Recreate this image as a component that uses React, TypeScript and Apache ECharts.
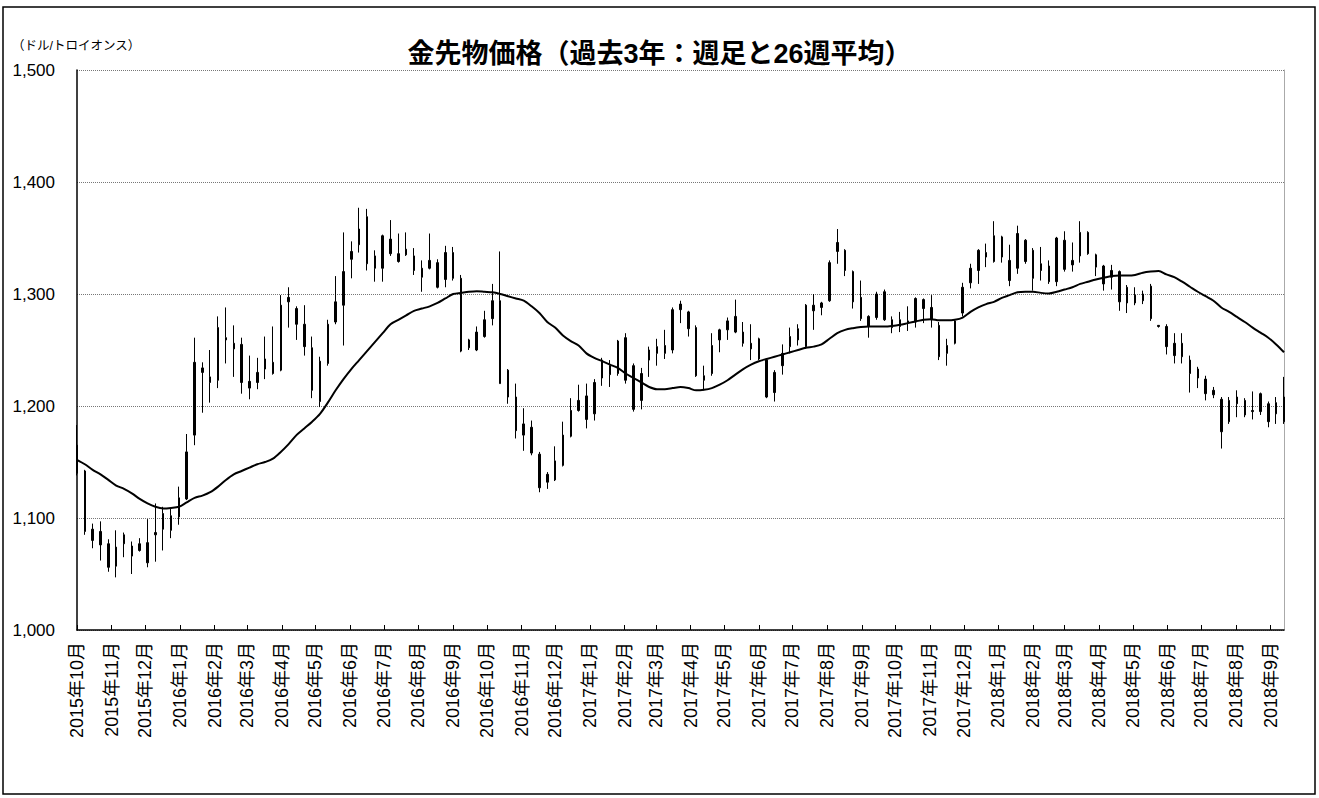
import React, { useEffect, useRef } from "react";
import * as echarts from "echarts";

const FIRST_WEEK = "2015-10-02";
const LAST_DAY = "2018-09-14";

const opens = [1165,1142,1090,1088,1077,1057,1085,1075,1071,1078,1085,1090,1102,1101,1117,1174,1230,1226,1223,1261,1256,1255,1216,1221,1233,1239,1232,1293,1287,1273,1252,1240,1238,1275,1290,1338,1344,1369,1323,1323,1349,1336,1335,1334,1323,1330,1328,1313,1337,1314,1252,1250,1262,1278,1294,1232,1208,1184,1181,1157,1132,1134,1147,1173,1196,1209,1193,1225,1236,1229,1261,1236,1205,1241,1247,1254,1250,1286,1284,1270,1227,1229,1259,1268,1280,1266,1256,1260,1241,1212,1236,1253,1259,1253,1290,1292,1294,1338,1339,1320,1297,1280,1279,1302,1270,1271,1274,1275,1295,1288,1272,1247,1256,1283,1310,1321,1333,1329,1351,1330,1323,1348,1339,1327,1325,1311,1348,1326,1334,1355,1335,1325,1315,1320,1306,1299,1294,1307,1272,1271,1256,1244,1241,1233,1224,1214,1206,1186,1208,1205,1195,1195,1202,1193,1186];
const closes = [1140,1088,1080,1076,1056,1074,1077,1066,1077,1060,1087,1104,1089,1118,1159,1239,1234,1221,1270,1259,1251,1221,1222,1230,1242,1229,1290,1297,1273,1253,1214,1204,1273,1293,1320,1331,1358,1327,1334,1352,1336,1329,1340,1321,1315,1323,1306,1337,1314,1249,1259,1266,1277,1294,1220,1208,1178,1174,1158,1127,1139,1151,1174,1196,1205,1188,1221,1241,1228,1258,1223,1197,1229,1250,1253,1247,1286,1291,1269,1227,1223,1254,1268,1276,1266,1256,1251,1242,1208,1230,1247,1262,1269,1290,1285,1288,1328,1346,1321,1293,1278,1271,1300,1277,1277,1277,1276,1296,1287,1277,1244,1254,1276,1306,1323,1339,1337,1352,1333,1312,1354,1329,1314,1321,1311,1350,1322,1330,1355,1336,1324,1309,1321,1293,1292,1292,1300,1278,1271,1253,1245,1256,1229,1225,1211,1210,1177,1205,1202,1192,1196,1211,1186,1203,1208];
const lows = [1138,1085,1073,1062,1052,1047,1065,1050,1070,1056,1061,1071,1082,1094,1116,1165,1194,1203,1216,1238,1226,1211,1206,1215,1224,1228,1231,1270,1259,1245,1207,1199,1236,1273,1254,1314,1337,1321,1311,1311,1334,1328,1334,1317,1302,1322,1305,1306,1312,1248,1250,1249,1261,1272,1220,1202,1171,1160,1156,1123,1126,1133,1146,1172,1195,1180,1187,1218,1217,1227,1220,1195,1197,1226,1236,1242,1247,1274,1262,1226,1214,1227,1248,1259,1265,1253,1241,1241,1207,1204,1228,1247,1254,1251,1268,1281,1293,1327,1316,1287,1276,1261,1277,1276,1265,1266,1267,1270,1274,1270,1241,1236,1255,1280,1305,1309,1324,1328,1328,1307,1318,1327,1303,1312,1309,1307,1320,1320,1328,1335,1316,1303,1304,1285,1283,1290,1291,1276,1270,1246,1238,1238,1212,1216,1205,1207,1162,1184,1190,1190,1188,1192,1181,1184,1184];
const highs = [1183,1143,1095,1097,1081,1089,1087,1079,1082,1099,1113,1110,1108,1128,1175,1261,1239,1250,1280,1288,1272,1261,1245,1243,1262,1271,1299,1306,1289,1290,1262,1244,1277,1316,1355,1347,1377,1376,1339,1353,1366,1354,1355,1341,1330,1354,1331,1343,1342,1317,1260,1271,1285,1309,1338,1233,1220,1198,1187,1159,1141,1164,1186,1207,1219,1220,1224,1243,1241,1259,1265,1238,1234,1253,1260,1268,1288,1294,1285,1272,1236,1265,1269,1279,1295,1275,1273,1261,1242,1232,1255,1270,1273,1291,1300,1293,1330,1358,1340,1321,1312,1281,1302,1304,1280,1284,1289,1297,1296,1299,1275,1260,1277,1310,1327,1340,1345,1365,1352,1344,1361,1349,1341,1342,1330,1351,1356,1346,1365,1356,1336,1326,1326,1321,1308,1306,1303,1309,1272,1273,1265,1265,1245,1235,1227,1217,1208,1208,1214,1207,1213,1212,1204,1208,1226];
const ma26 = [1152,1148,1143,1139,1134,1129,1126,1122,1117,1113,1110,1108.5,1109,1110,1114,1118,1120,1123,1128,1134,1139,1142,1145,1148,1150,1153,1159,1166,1174,1180,1186,1193,1203,1214,1224,1233,1241,1249,1257,1265,1273,1277,1281,1285,1287,1289,1292,1296,1300,1301,1302,1302.5,1302,1301.5,1300,1298,1296,1294,1289,1283,1275,1270,1263,1258,1254,1247,1243,1240,1237,1234,1229,1225,1221,1217,1215,1215,1216,1217,1216,1214,1214.5,1216,1219,1223,1228,1233,1237,1240,1242,1244,1246,1248,1250,1252,1253,1255,1260,1265,1268,1269.5,1270.5,1271,1271,1271,1271.5,1272.5,1274,1275.5,1277,1277.5,1276.5,1276.5,1277,1279,1284,1288,1291,1293,1296.5,1299,1301.5,1302,1302,1301,1300.5,1302,1304,1306,1309,1311,1313,1314.5,1316,1316.5,1316.5,1317,1319,1320,1320.5,1317.5,1315,1311,1306.5,1302,1298,1294,1288,1284,1279.5,1275,1270,1265.5,1261,1255,1248];

const Y_TICKS = [1000, 1100, 1200, 1300, 1400, 1500];
const TITLE = "金先物価格（過去3年：週足と26週平均）";
const UNIT = "（ドル/トロイオンス）";

const FONT = "'Liberation Sans', 'Noto Sans CJK JP', sans-serif";

function fmt(d: Date) {
  const y = d.getUTCFullYear();
  const m = String(d.getUTCMonth() + 1).padStart(2, "0");
  const dd = String(d.getUTCDate()).padStart(2, "0");
  return `${y}-${m}-${dd}`;
}

function buildDays(): string[] {
  const out: string[] = [];
  const d = new Date(FIRST_WEEK + "T00:00:00Z");
  const end = new Date(LAST_DAY + "T00:00:00Z");
  while (d.getTime() <= end.getTime()) {
    out.push(fmt(d));
    d.setUTCDate(d.getUTCDate() + 1);
  }
  return out;
}

function buildWeeks(n: number): string[] {
  const out: string[] = [];
  const d = new Date(FIRST_WEEK + "T00:00:00Z");
  for (let i = 0; i < n; i++) {
    out.push(fmt(d));
    d.setUTCDate(d.getUTCDate() + 7);
  }
  return out;
}

export default function App() {
  const ref = useRef<HTMLDivElement>(null);
  useEffect(() => {
    if (!ref.current) return;
    const chart = echarts.init(ref.current, undefined, { renderer: "svg" });
    const days = buildDays();
    const weeks = buildWeeks(opens.length);
    const weekIndex: Record<string, number> = {};
    weeks.forEach((d, i) => (weekIndex[d] = i));
    const labelDay = FIRST_WEEK.slice(8);
    const isLabel = (_i: number, v: string) => v.slice(8) === labelDay;
    const candles = days.map((d) => {
      const i = weekIndex[d];
      return i === undefined ? ["-", "-", "-", "-"] : [opens[i], closes[i], lows[i], highs[i]];
    });
    const maLine = days.map((d) => {
      const i = weekIndex[d];
      return i === undefined ? "-" : ma26[i];
    });

    chart.setOption({
      animation: false,
      backgroundColor: "#fff",
      textStyle: { fontFamily: FONT },
      title: {
        text: TITLE,
        left: "center",
        top: 35,
        textStyle: { fontSize: 27, fontWeight: "bold", color: "#000", fontFamily: FONT },
      },
      graphic: [
        {
          type: "rect",
          shape: { x: 3, y: 7, width: 1312, height: 787 },
          style: { fill: "none", stroke: "#000", lineWidth: 1.5 },
          silent: true,
        },
        {
          type: "text",
          x: 12,
          y: 40,
          style: { text: UNIT, fontSize: 12.5, fill: "#000", fontFamily: FONT },
        },
      ],
      grid: { left: 77, right: 35, top: 70, bottom: 168 },
      xAxis: {
        type: "category",
        data: days,
        boundaryGap: false,
        axisLine: { show: true, lineStyle: { color: "#000", width: 1.5 } },
        axisTick: { show: true, inside: true, length: 5, interval: isLabel, lineStyle: { color: "#000" } },
        axisLabel: {
          interval: isLabel,
          rotate: 90,
          margin: 12,
          fontSize: 18,
          color: "#000",
          fontFamily: FONT,
          formatter: (v: string) => `${v.slice(0, 4)}年${parseInt(v.slice(5, 7), 10)}月`,
        },
        splitLine: { show: false },
      },
      yAxis: [
        {
          type: "value",
          min: Y_TICKS[0],
          max: Y_TICKS[Y_TICKS.length - 1],
          interval: 100,
          axisLine: { show: true, lineStyle: { color: "#000", width: 1.5 } },
          axisTick: { show: false },
          axisLabel: {
            margin: 22,
            fontSize: 17,
            color: "#000",
            fontFamily: FONT,
            formatter: (v: number) => v.toLocaleString("en-US"),
          },
          splitLine: { show: true, lineStyle: { color: "#777", type: [1, 1], width: 1 } },
        },
        {
          type: "value",
          position: "right",
          min: Y_TICKS[0],
          max: Y_TICKS[Y_TICKS.length - 1],
          interval: 100,
          axisLine: { show: true, lineStyle: { color: "#aaa", width: 1 } },
          axisTick: { show: false },
          axisLabel: { show: false },
          splitLine: { show: false },
        },
      ],
      series: [
        {
          type: "candlestick",
          data: candles,
          barWidth: 2,
          large: false,
          clip: false,
          itemStyle: {
            color: "#000",
            color0: "#000",
            borderColor: "#000",
            borderColor0: "#000",
            borderWidth: 1,
          },
        },
        {
          type: "line",
          data: maLine,
          showSymbol: false,
          connectNulls: true,
          smooth: 0.3,
          lineStyle: { color: "#000", width: 2 },
          z: 3,
        },
      ],
    });
    return () => chart.dispose();
  }, []);
  return (
    <div
      ref={ref}
      style={{ position: "absolute", left: 0, top: 0, width: 1319, height: 798, background: "#fff" }}
    />
  );
}
